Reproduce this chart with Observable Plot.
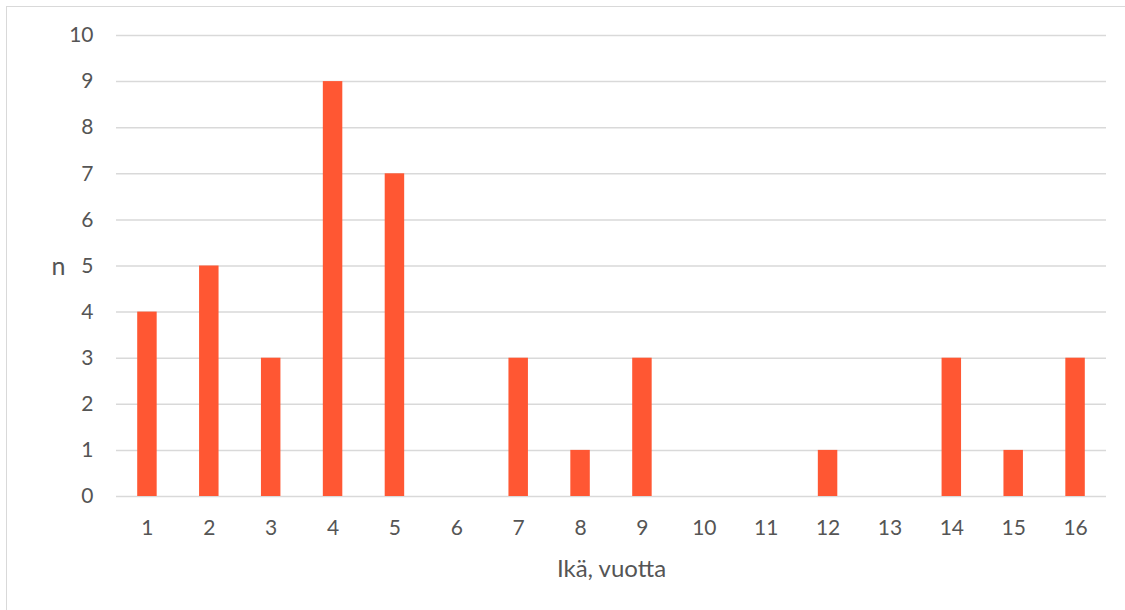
<!DOCTYPE html>
<html>
<head>
<meta charset="utf-8">
<script src="https://cdn.jsdelivr.net/npm/d3@7"></script>
<script src="https://cdn.jsdelivr.net/npm/@observablehq/plot@0.6"></script>
<style>
  html, body { margin: 0; padding: 0; background: #fff; }
  #wrap { position: relative; width: 1125px; height: 610px; overflow: hidden; }
  #frame { position: absolute; left: 6px; top: 6px; width: 1200px; height: 700px;
           border-top: 1.5px solid #d9d9d9; border-left: 1.5px solid #d9d9d9; box-sizing: border-box; }
  #chart { position: absolute; left: 0; top: 0; }
</style>
</head>
<body>
<div id="wrap"><div id="frame"></div><div id="chart"></div></div>
<script>
const ages = ["1","2","3","4","5","6","7","8","9","10","11","12","13","14","15","16"];
const counts = [4, 5, 3, 9, 7, 0, 3, 1, 3, 0, 0, 1, 0, 3, 1, 3];
const yTicks = [0, 1, 2, 3, 4, 5, 6, 7, 8, 9, 10];
const xTitle = "Ikä, vuotta";
const yTitle = "n";

const data = ages.map((a, i) => ({ age: a, n: counts[i] }));

const chart = Plot.plot({
  width: 1125,
  height: 610,
  marginLeft: 116,
  marginRight: 19,
  marginTop: 35,
  marginBottom: 114,
  style: { fontFamily: "Lato, 'Open Sans', sans-serif", fontSize: "21px", color: "#555555", background: "transparent" },
  x: { type: "band", domain: ages, padding: 0, round: false, label: null, tickSize: 0, tickPadding: 24 },
  y: { domain: [0, 10], ticks: yTicks, label: null, tickSize: 0, tickPadding: 23 },
  marks: [
    Plot.ruleY(yTicks, { stroke: "#d9d9d9", strokeWidth: 1.5 }),
    Plot.barY(data, { x: "age", y: "n", fill: "#FF5733", insetLeft: 21.2, insetRight: 21.2 }),
    Plot.text([xTitle], { frameAnchor: "bottom", dy: 80, fontSize: 24, fill: "#555555" }),
    Plot.text([yTitle], { frameAnchor: "left", dx: -65, dy: 1, fontSize: 25, fill: "#555555" })
  ]
});
document.getElementById("chart").appendChild(chart);
</script>
</body>
</html>
